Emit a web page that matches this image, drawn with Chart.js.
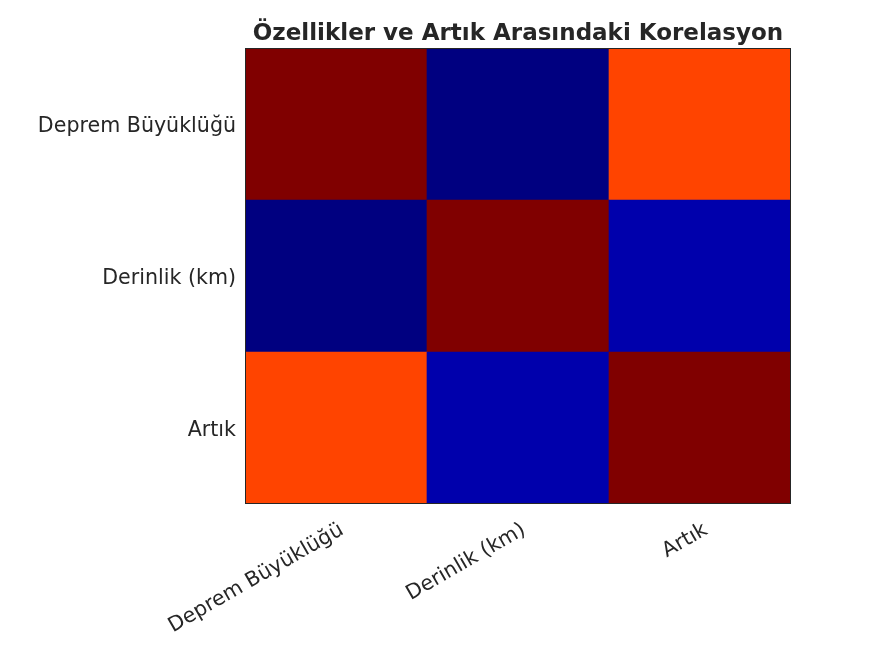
<!DOCTYPE html>
<html>
<head>
<meta charset="utf-8">
<script src="https://cdn.jsdelivr.net/npm/chart.js@4.4.0/dist/chart.umd.min.js"></script>
<style>
html,body{margin:0;padding:0;background:#fff;}
#wrap{width:874px;height:656px;}
</style>
</head>
<body>
<div id="wrap"><canvas id="c" width="874" height="656"></canvas></div>
<script>
const titleText = 'Özellikler ve Artık Arasındaki Korelasyon';
const categories = ['Deprem Büyüklüğü', 'Derinlik (km)', 'Artık'];
// correlation matrix rows (top to bottom)
const rowMagnitude = [1.00, -0.05, 0.83];
const rowDepth = [-0.05, 1.00, -0.01];
const rowResidual = [0.83, -0.01, 1.00];
const rows = [rowMagnitude, rowDepth, rowResidual];

const allVals = rows.flat();
const vmin = Math.min(...allVals), vmax = Math.max(...allVals);

function interp(pts, t) {
  for (let i = 0; i < pts.length - 1; i++) {
    const [x0, y0] = pts[i], [x1, y1] = pts[i + 1];
    if (t >= x0 && t <= x1) return y0 + (y1 - y0) * (t - x0) / (x1 - x0 || 1);
  }
  return pts[pts.length - 1][1];
}
function jet(v) {
  const t = Math.max(0, Math.min(1, (v - vmin) / (vmax - vmin)));
  const r = interp([[0, 0], [0.35, 0], [0.66, 1], [0.89, 1], [1, 0.5]], t);
  const g = interp([[0, 0], [0.125, 0], [0.375, 1], [0.64, 1], [0.91, 0], [1, 0]], t);
  const b = interp([[0, 0.5], [0.11, 1], [0.34, 1], [0.65, 0], [1, 0]], t);
  return `rgb(${Math.round(r * 255)},${Math.round(g * 255)},${Math.round(b * 255)})`;
}

// datasets stacked bottom-to-top
const datasets = rows.slice().reverse().map((row, i) => ({
  label: categories[2 - i],
  data: row.map(() => 1),
  backgroundColor: row.map(jet),
  borderWidth: 0,
  barPercentage: 1,
  categoryPercentage: 1
}));

const framePlugin = {
  id: 'frame',
  afterDatasetsDraw(chart) {
    const a = chart.chartArea, ctx = chart.ctx;
    ctx.save();
    ctx.strokeStyle = '#262626';
    ctx.lineWidth = 1;
    ctx.strokeRect(Math.round(a.left) + 0.5, Math.round(a.top) + 0.5, Math.round(a.right - a.left) - 1, Math.round(a.bottom - a.top) - 1);
    // title centred over the plot area
    ctx.fillStyle = '#262626';
    ctx.font = 'bold 23px "DejaVu Sans"';
    ctx.textAlign = 'center';
    ctx.textBaseline = 'alphabetic';
    ctx.fillText(titleText, (a.left + a.right) / 2, 40);
    ctx.restore();
  }
};

new Chart(document.getElementById('c'), {
  type: 'bar',
  data: { labels: categories, datasets },
  options: {
    responsive: false,
    animation: false,
    events: [],
    layout: { padding: { left: 0, right: 83, top: 48, bottom: 0 } },
    plugins: {
      legend: { display: false },
      tooltip: { enabled: false },
      title: { display: false }
    },
    scales: {
      x: {
        stacked: true,
        grid: { display: false, drawTicks: false },
        border: { display: false },
        ticks: {
          color: '#262626',
          font: { family: 'DejaVu Sans', size: 20.6 },
          minRotation: 30, maxRotation: 30,
          padding: 14,
          labelOffset: 6
        },
        afterFit(s) { s.height = 152; }
      },
      y: {
        stacked: true,
        min: 0, max: 3,
        grid: { display: false, drawTicks: false },
        border: { display: false },
        afterBuildTicks(s) { s.ticks = [{ value: 0.5 }, { value: 1.5 }, { value: 2.5 }]; },
        ticks: {
          color: '#262626',
          font: { family: 'DejaVu Sans', size: 20.6 },
          padding: 9,
          labelOffset: 3,
          callback: (v) => categories[2 - Math.floor(v)]
        },
        afterFit(s) { s.width = 245; }
      }
    }
  },
  plugins: [framePlugin]
});
</script>
</body>
</html>
